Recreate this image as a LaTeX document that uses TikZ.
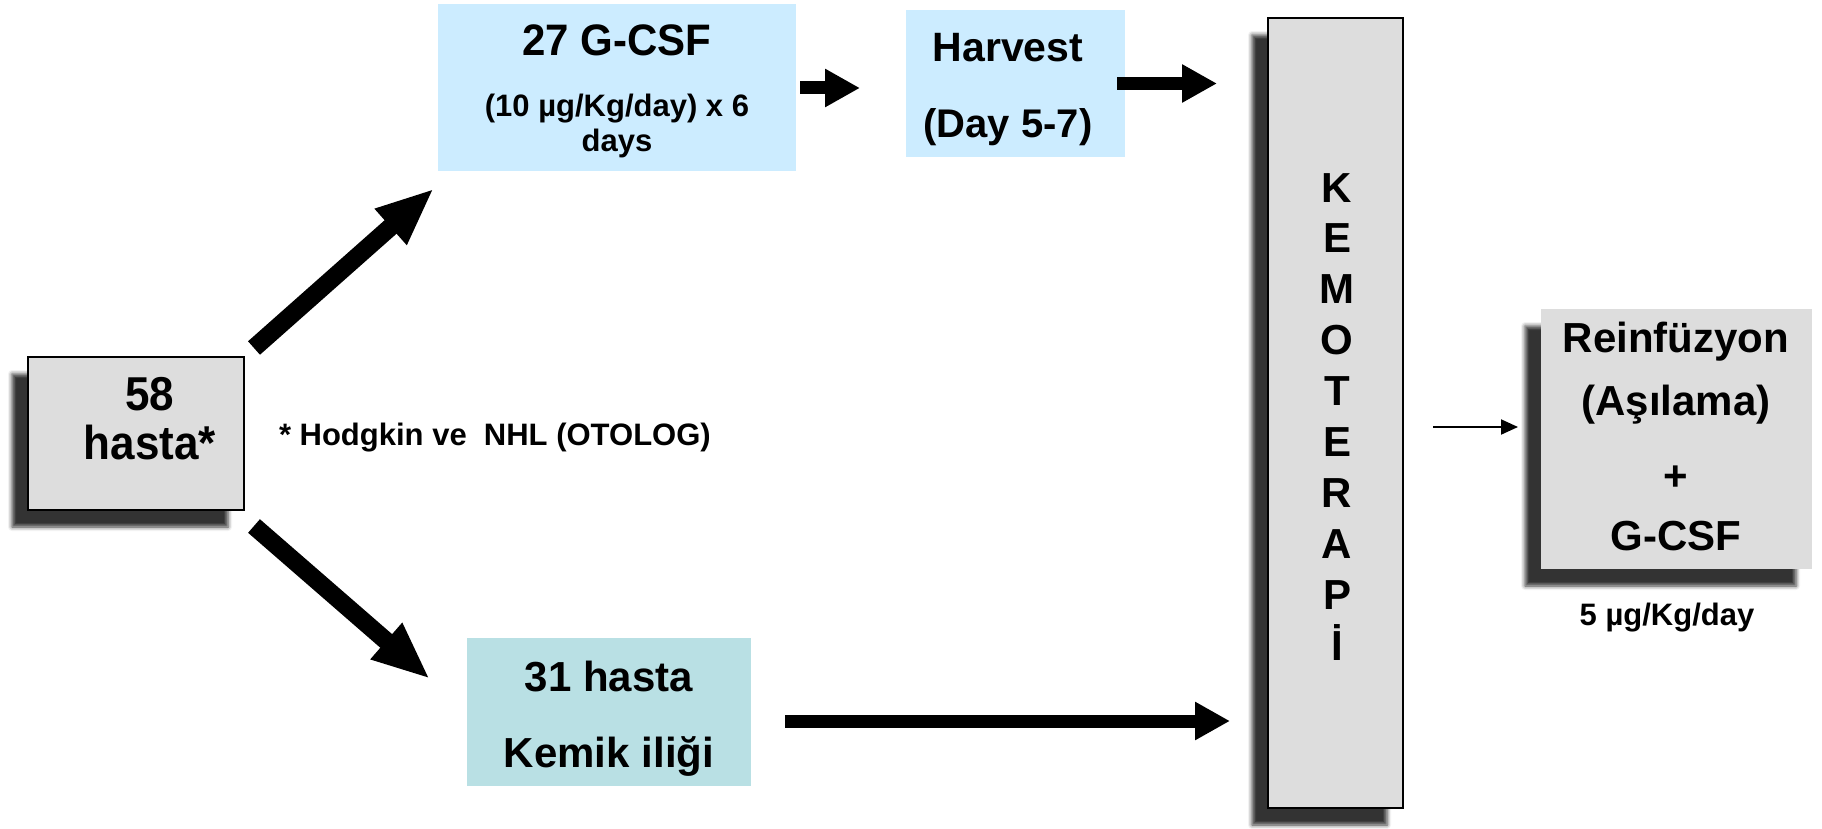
\documentclass[tikz,border=0pt]{standalone}
\usepackage{fontspec}
\setmainfont{Liberation Sans}
\usetikzlibrary{arrows.meta,shadows.blur}
\definecolor{boxgray}{HTML}{DDDDDD}
\definecolor{lblue}{HTML}{CCECFF}
\definecolor{lteal}{HTML}{B9E0E4}
\tikzset{
  every node/.style={inner sep=0pt, outer sep=0pt},
  shadowed/.style={blur shadow={shadow xshift=-16pt, shadow yshift=-17pt, shadow blur radius=4pt, shadow opacity=80}},
  graybox/.style={draw=black, line width=1.5pt, fill=boxgray, shadowed},
  plainbox/.style={fill=boxgray, shadowed},
  bluebox/.style={fill=lblue},
  tealbox/.style={fill=lteal},
  txt/.style={font=\bfseries\fontsize{#1}{#1}\selectfont, anchor=base},
  fatarrow/.style={line width=18pt, -{Triangle[width=44pt,length=58pt]}},
  harrow/.style={line width=13pt, -{Triangle[width=36pt,length=35pt]}},
  thinarrow/.style={line width=2pt, -{Triangle[width=15pt,length=17pt]}}
}
\begin{document}
\begin{tikzpicture}[x=1pt,y=-1pt]
\useasboundingbox (0,0) rectangle (1822,829);
% boxes
\node[graybox, minimum width=216pt, minimum height=153pt] (n58) at (136,433.5) {};
\node[bluebox, minimum width=358pt, minimum height=167pt] (gcsf) at (617,88) {};
\node[bluebox, minimum width=219pt, minimum height=147pt] (harv) at (1015.5,83.5) {};
\node[graybox, minimum width=135pt, minimum height=790pt] (kemo) at (1335.5,413) {};
\node[plainbox, minimum width=271pt, minimum height=260pt] (reinf) at (1676.5,439) {};
\node[tealbox, minimum width=284pt, minimum height=148pt] (k31) at (609,712) {};
% texts
\node[txt=44] (t58a) at (150,410) {\scalebox{1}[1.08]{58}};
\node[txt=44] (t58b) at (150,459) {\scalebox{1}[1.08]{hasta*}};
\node[txt=42] (tg1) at (617,56) {\scalebox{1}[1.05]{27 G-CSF}};
\node[txt=31] (tg2) at (617,117) {(10 µg/Kg/day) x 6};
\node[txt=31] (tg3) at (617,152) {days};
\node[txt=41] (th1) at (1008,62) {Harvest};
\node[txt=40] (th2) at (1008,138) {(Day 5-7)};
\node[txt=42] (tk1) at (609,691) {31 hasta};
\node[txt=42] (tk2) at (609,767) {Kemik iliği};
\node[txt=31, anchor=base west] (thod) at (279,445) {* Hodgkin ve~~NHL (OTOLOG)};
\foreach \L [count=\i from 0] in {K,E,M,O,T,E,R,A,P,İ}
  \node[txt=42] (km\i) at (1337,{202+50.9*\i}) {\L};
\node[txt=42] (tr1) at (1676,352) {Reinfüzyon};
\node[txt=42] (tr2) at (1676,415) {(Aşılama)};
\node[txt=42] (tr3) at (1676,490) {+};
\node[txt=42] (tr4) at (1676,550) {G-CSF};
\node[txt=31] (tdose) at (1667,625) {5 µg/Kg/day};
% arrows
\draw[fatarrow] ([shift={(10,-9)}]n58.north east) -- ([shift={(-4,17)}]gcsf.south west);
\draw[fatarrow] ([shift={(10,16)}]n58.south east) -- ([shift={(-37,41)}]k31.north west);
\draw[harrow] ([xshift=4pt]gcsf.east) -- ([xshift=-46pt]harv.west |- gcsf.east);
\draw[harrow] ([xshift=-8pt]harv.east) -- ([xshift=-51pt]kemo.west |- harv.east);
\coordinate (a3) at ([shift={(34,9)}]k31.east);
\draw[harrow] (a3) -- ([xshift=-38pt]kemo.west |- a3);
\coordinate (a4) at ([shift={(30,14)}]kemo.east);
\draw[thinarrow] (a4) -- ([xshift=-23pt]reinf.west |- a4);
\end{tikzpicture}
\end{document}
